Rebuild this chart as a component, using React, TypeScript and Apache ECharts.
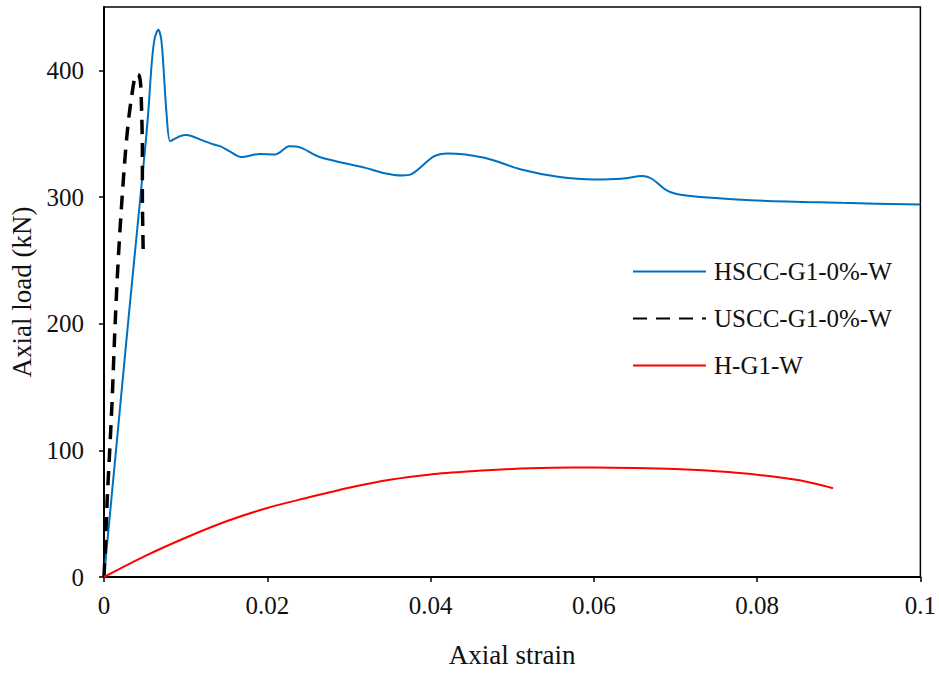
import React, { useEffect, useRef } from "react";
import * as echarts from "echarts";

const hsccName = "HSCC-G1-0%-W";
const usccName = "USCC-G1-0%-W";
const hName = "H-G1-W";

const hsccStrain = [0, 0.001, 0.002, 0.003, 0.004, 0.005, 0.0054, 0.00584, 0.0062, 0.00665, 0.007, 0.00726, 0.00767, 0.0081, 0.0087, 0.0093, 0.01, 0.0108, 0.01175, 0.01344, 0.01428, 0.0154, 0.0168, 0.0191, 0.021, 0.0227, 0.0241, 0.0264, 0.032, 0.0342, 0.0365, 0.0376, 0.0404, 0.0421, 0.0466, 0.0511, 0.0556, 0.0601, 0.0634, 0.066, 0.0671, 0.0691, 0.0713, 0.0792, 0.0904, 0.1];
const hsccLoad = [0, 68, 136, 204, 270, 336, 365, 405, 425, 432, 425, 405, 365, 344, 346, 348, 349, 348, 345.5, 341.5, 340, 336, 331.5, 334, 333.6, 340, 339, 331.6, 323, 319, 317, 317.8, 332, 334.4, 331, 321.7, 316, 313.8, 314.4, 316.5, 314.4, 304.6, 301.2, 297.5, 295.4, 294];

const usccStrain = [0, 0.0002, 0.0004, 0.0007, 0.001, 0.0013, 0.0016, 0.0019, 0.0022, 0.0025, 0.0028, 0.0031, 0.0034, 0.0037, 0.004, 0.0043, 0.0045, 0.0046, 0.0047, 0.0047, 0.0048];
const usccLoad = [0, 30, 62, 100, 140, 190, 233, 268, 298, 325, 348, 366, 380, 392, 397, 396, 388, 370, 340, 300, 258];

const hStrain = [0, 0.005, 0.01, 0.015, 0.02, 0.025, 0.03, 0.035, 0.04, 0.045, 0.05, 0.055, 0.06, 0.065, 0.07, 0.075, 0.08, 0.085, 0.0893];
const hLoad = [0, 16.5, 31, 44, 54.5, 62.7, 70.5, 76.8, 81, 83.5, 85.3, 86.2, 86.5, 86.1, 85.2, 83.5, 80.8, 76.5, 70.1];

const xTicks = [0, 0.02, 0.04, 0.06, 0.08, 0.1];
const yTicks = [0, 100, 200, 300, 400];

const pairs = (xs: number[], ys: number[]) => xs.map((x, i) => [x, ys[i]]);

const FONT = "Liberation Serif";

export default function App() {
  const ref = useRef<HTMLDivElement>(null);
  useEffect(() => {
    if (!ref.current) return;
    const chart = echarts.init(ref.current, null, { renderer: "svg" });
    chart.setOption({
      animation: false,
      backgroundColor: "#fff",
      textStyle: { fontFamily: FONT },
      grid: {
        left: 104,
        right: 18,
        top: 7,
        bottom: 96,
        show: true,
        borderColor: "#000",
        borderWidth: 1.5,
      },
      legend: {
        orient: "vertical",
        left: 632,
        top: 259,
        padding: 0,
        itemWidth: 73,
        itemHeight: 14,
        itemGap: 22,
        itemStyle: { opacity: 0 },
        textStyle: { fontFamily: FONT, fontSize: 25, lineHeight: 25, color: "#111", padding: [0, 0, 0, 3] },
        data: [hsccName, usccName, hName],
      },
      xAxis: {
        type: "value",
        min: 0,
        max: 0.1,
        interval: 0.02,
        name: "Axial strain",
        nameLocation: "middle",
        nameGap: 64,
        nameTextStyle: { fontFamily: FONT, fontSize: 27, color: "#111" },
        axisLine: { lineStyle: { color: "#000", width: 2 } },
        axisTick: { show: true, length: 5, lineStyle: { color: "#000", width: 1.5 } },
        axisLabel: {
          fontFamily: FONT,
          fontSize: 25,
          color: "#111",
          margin: 16,
          formatter: (v: number) => (v === 0 ? "0" : String(+v.toFixed(2))),
        },
        splitLine: { show: false },
      },
      yAxis: {
        type: "value",
        min: 0,
        max: 450,
        interval: 100,
        name: "Axial load (kN)",
        nameLocation: "middle",
        nameRotate: 90,
        nameGap: 58,
        nameTextStyle: { fontFamily: FONT, fontSize: 27, color: "#111" },
        axisLine: { show: true, lineStyle: { color: "#000", width: 2 } },
        axisTick: { show: true, length: 5, lineStyle: { color: "#000", width: 1.5 } },
        axisLabel: {
          fontFamily: FONT,
          fontSize: 25,
          color: "#111",
          margin: 20,
          showMaxLabel: false,
        },
        splitLine: { show: false },
      },
      series: [
        {
          name: hsccName,
          type: "line",
          data: pairs(hsccStrain, hsccLoad),
          symbol: "none",
          smooth: 0.3,
          lineStyle: { color: "#0070C0", width: 2 },
          itemStyle: { color: "#0070C0" },
        },
        {
          name: usccName,
          type: "line",
          data: pairs(usccStrain, usccLoad),
          symbol: "none",
          smooth: 0.2,
          lineStyle: { color: "#000", width: 3.5, type: [14, 9] },
          itemStyle: { color: "#000" },
        },
        {
          name: hName,
          type: "line",
          data: pairs(hStrain, hLoad),
          symbol: "none",
          smooth: 0.3,
          lineStyle: { color: "#FF0000", width: 2 },
          itemStyle: { color: "#FF0000" },
        },
      ],
    });
    return () => chart.dispose();
  }, []);
  return (
    <div
      ref={ref}
      style={{ position: "fixed", left: 0, top: 0, width: 939, height: 673, background: "#fff" }}
    />
  );
}
